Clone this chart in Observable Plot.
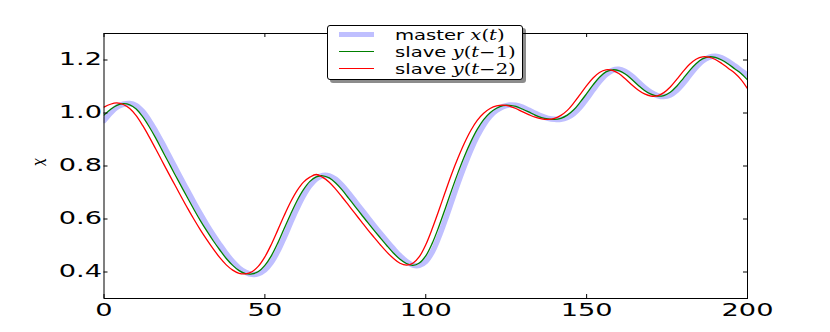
<!DOCTYPE html>
<html>
<head>
<meta charset="utf-8">
<script src="https://cdn.jsdelivr.net/npm/d3@7"></script>
<script src="https://cdn.jsdelivr.net/npm/@observablehq/plot@0.6"></script>
<style>
  body { margin: 0; background: #fff; }
  #wrap { position: relative; width: 830px; height: 332px; overflow: hidden; }
  #legend {
    position: absolute; left: 327px; top: 25px; width: 194px; height: 53px;
    background: #fff; border: 1px solid #000; border-radius: 3px;
    box-shadow: 3px 3px 0 rgba(0,0,0,0.45);
    font-family: "DejaVu Sans", sans-serif; font-size: 14px; color: #000;
  }
  .row { position: absolute; left: 0; height: 17px; width: 100%; }
  .swatch { position: absolute; left: 11px; width: 35px; top: 50%; }
  .lab {
    position: absolute; left: 67px; top: 50%; white-space: nowrap;
    transform: translateY(-50%) scaleX(1.4); transform-origin: left center; line-height: 17px;
  }
  .m { font-family: "DejaVu Serif", serif; }
  .m i { font-style: italic; }
</style>
</head>
<body>
<div id="wrap">
  <div id="chart"></div>
  <div id="legend"></div>
</div>
<script>
// time grid
const tValues = [0,2,4,6,8,10,12,14,16,18,20,22,24,26,28,30,32,34,36,38,40,42,44,46,48,50,52,54,56,58,60,62,64,66,68,70,72,74,76,78,80,82,84,86,88,90,92,94,96,98,100,102,104,106,108,110,112,114,116,118,120,122,124,126,128,130,132,134,136,138,140,142,144,146,148,150,152,154,156,158,160,162,164,166,168,170,172,174,176,178,180,182,184,186,188,190,192,194,196,198,200];

// master x(t)
const masterValues = [0.972,1.000,1.022,1.033,1.036,1.028,1.006,0.973,0.933,0.889,
0.843,0.797,0.751,0.706,0.661,0.618,0.577,0.539,0.503,0.469,
0.439,0.415,0.399,0.391,0.394,0.408,0.436,0.478,0.530,0.586,
0.640,0.688,0.726,0.752,0.764,0.763,0.750,0.727,0.698,0.667,
0.636,0.605,0.574,0.544,0.515,0.487,0.461,0.440,0.426,0.425,
0.440,0.475,0.530,0.595,0.665,0.735,0.800,0.860,0.912,0.955,
0.988,1.010,1.024,1.030,1.029,1.022,1.011,0.999,0.988,0.980,
0.976,0.976,0.983,0.998,1.022,1.053,1.087,1.119,1.145,1.161,
1.165,1.157,1.140,1.118,1.096,1.078,1.066,1.062,1.068,1.085,
1.111,1.142,1.172,1.196,1.210,1.214,1.208,1.195,1.178,1.160,
1.142];

// slave y(t-1)
const slave1Values = [0.992,1.013,1.029,1.035,1.031,1.015,0.986,0.949,0.907,0.861,
0.815,0.769,0.724,0.679,0.635,0.593,0.554,0.517,0.483,0.451,
0.425,0.405,0.394,0.393,0.402,0.425,0.461,0.509,0.564,0.618,
0.669,0.711,0.742,0.759,0.763,0.755,0.736,0.710,0.679,0.648,
0.617,0.586,0.556,0.527,0.498,0.471,0.448,0.432,0.425,0.434,
0.461,0.508,0.569,0.637,0.707,0.774,0.836,0.891,0.938,0.975,
1.001,1.018,1.028,1.029,1.025,1.015,1.004,0.992,0.983,0.978,
0.976,0.980,0.992,1.012,1.041,1.073,1.106,1.135,1.155,1.163,
1.160,1.147,1.127,1.105,1.085,1.071,1.064,1.066,1.078,1.101,
1.130,1.160,1.186,1.204,1.212,1.210,1.200,1.185,1.167,1.149,
1.125];

// slave y(t-2)
const slave2Values = [1.022,1.033,1.038,1.032,1.017,0.990,0.953,0.911,0.866,0.820,
0.774,0.729,0.684,0.640,0.598,0.558,0.521,0.486,0.454,0.427,
0.407,0.395,0.393,0.401,0.422,0.457,0.504,0.558,0.613,0.664,
0.707,0.739,0.758,0.768,0.757,0.739,0.713,0.683,0.652,0.621,
0.590,0.559,0.530,0.501,0.474,0.451,0.433,0.426,0.433,0.458,
0.503,0.563,0.630,0.700,0.768,0.830,0.886,0.934,0.972,0.999,
1.017,1.027,1.030,1.026,1.017,1.005,0.994,0.984,0.978,0.976,
0.980,0.991,1.010,1.038,1.070,1.103,1.132,1.153,1.163,1.161,
1.149,1.129,1.107,1.087,1.072,1.064,1.065,1.077,1.098,1.127,
1.157,1.184,1.203,1.212,1.211,1.202,1.187,1.169,1.151,1.126,
1.092];

const xTicks = [0, 50, 100, 150, 200];
const yTicks = [0.4, 0.6, 0.8, 1.0, 1.2];
const xDomain = [0, 200];
const yDomain = [0.3, 1.3];
const yLabel = "x";

const seriesNames = ["master", "slave1", "slave2"];
const seriesColors = ["#bfbfff", "#008000", "#ff0000"];
const seriesWidths = [5.5, 1.3, 1.3];

// ---- layout
const W = 830, H = 332, ML = 103.5, MR = 83, MT = 33, MB = 34;
const frameW = W - ML - MR, frameH = H - MT - MB;
const TICK = 4;

const rows = (vals, name) => tValues.map((t, i) => ({t, v: vals[i], s: name}));
const masterRows = rows(masterValues, seriesNames[0]);
const s1Rows = rows(slave1Values, seriesNames[1]);
const s2Rows = rows(slave2Values, seriesNames[2]);

const plot = Plot.plot({
  width: W, height: H,
  marginLeft: ML, marginRight: MR, marginTop: MT, marginBottom: MB,
  x: {domain: xDomain},
  y: {domain: yDomain},
  style: {fontFamily: "DejaVu Sans, sans-serif", fontSize: "17px", color: "#000", background: "#fff"},
  marks: [
    Plot.line(masterRows, {x: "t", y: "v", stroke: seriesColors[0], strokeWidth: seriesWidths[0], curve: "catmull-rom", clip: true}),
    Plot.line(s1Rows, {x: "t", y: "v", stroke: seriesColors[1], strokeWidth: seriesWidths[1], curve: "catmull-rom", clip: true}),
    Plot.line(s2Rows, {x: "t", y: "v", stroke: seriesColors[2], strokeWidth: seriesWidths[2], curve: "catmull-rom", clip: true}),
    // inward ticks on all four sides
    Plot.tickY(yTicks, {y: d => d, insetRight: frameW - TICK, stroke: "#000", strokeWidth: 1}),
    Plot.tickY(yTicks, {y: d => d, insetLeft: frameW - TICK, stroke: "#000", strokeWidth: 1}),
    Plot.tickX(xTicks, {x: d => d, insetTop: frameH - TICK, stroke: "#000", strokeWidth: 1}),
    Plot.tickX(xTicks, {x: d => d, insetBottom: frameH - TICK, stroke: "#000", strokeWidth: 1}),
    Plot.frame({stroke: "#000", strokeWidth: 1}),
    Plot.axisY(yTicks, {anchor: "left", tickSize: 0, tickPadding: 2, tickFormat: d => d.toFixed(1), label: null, fontSize: 17}),
    Plot.axisX(xTicks, {anchor: "bottom", tickSize: 0, tickPadding: 5, tickFormat: d => String(d), label: null, fontSize: 17}),
    Plot.text([yLabel], {frameAnchor: "left", dx: -65, rotate: -90, text: d => d,
      fontFamily: "DejaVu Serif, serif", fontStyle: "italic", fontSize: 14, fill: "#000"})
  ]
});
document.getElementById("chart").appendChild(plot);

// horizontal stretch of tick labels (the reference text is widened)
function stretch(el, s) {
  const tr = el.getAttribute("transform") || "";
  if (/rotate\(/.test(tr)) {
    el.setAttribute("transform", tr.replace("rotate(", `scale(${s},1) rotate(`));
  } else {
    el.setAttribute("transform", `${tr} scale(${s},1)`);
  }
}
plot.querySelectorAll("text").forEach(el => {
  const g = el.closest("g[aria-label]");
  const lab = g ? g.getAttribute("aria-label") : "";
  if (/tick label/.test(lab)) stretch(el, 1.6);
  else if (lab === "text") stretch(el, 1.5);
});

// legend
const legendItems = [
  {html: 'master <span class="m"><i>x</i>(<i>t</i>)</span>'},
  {html: 'slave <span class="m"><i>y</i>(<i>t</i>−1)</span>'},
  {html: 'slave <span class="m"><i>y</i>(<i>t</i>−2)</span>'}
];
const legend = document.getElementById("legend");
const rowTops = [0, 17, 34];
legendItems.forEach((it, i) => {
  const r = document.createElement("div");
  r.className = "row";
  r.style.top = rowTops[i] + "px";
  const sw = document.createElement("div");
  sw.className = "swatch";
  sw.style.borderTop = `${seriesWidths[i]}px solid ${seriesColors[i]}`;
  sw.style.marginTop = (-seriesWidths[i] / 2) + "px";
  r.appendChild(sw);
  const lb = document.createElement("span");
  lb.className = "lab";
  lb.innerHTML = it.html;
  r.appendChild(lb);
  legend.appendChild(r);
});
</script>
</body>
</html>
